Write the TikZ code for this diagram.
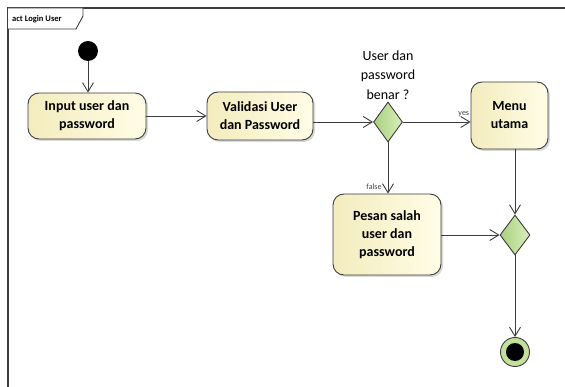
\documentclass[tikz,border=0pt]{standalone}
\usepackage{fontspec}
\setmainfont{Carlito}
\usetikzlibrary{arrows.meta,shapes.geometric,shadows}
\definecolor{lineC}{HTML}{3C3C3C}
\definecolor{creamA}{HTML}{FFFDE6}
\definecolor{creamB}{HTML}{F3ECBE}
\definecolor{greenA}{HTML}{A9D17F}
\definecolor{greenB}{HTML}{D8EDBC}
\definecolor{ringC}{HTML}{C3E09A}
\tikzset{
  actbox/.style={draw=lineC, line width=0.9pt, rounded corners=11pt, left color=creamB, right color=creamA,
    font=\bfseries\fontsize{14}{18}\selectfont, align=center, inner sep=0pt,
    drop shadow={shadow xshift=2pt, shadow yshift=-2pt, fill=black!25, opacity=0.6}},
  decis/.style={diamond, draw=lineC, line width=0.9pt, left color=greenA, right color=greenB, inner sep=0pt, aspect=0.73},
  flow/.style={draw=lineC, line width=0.9pt, -{Straight Barb[length=9pt,width=11pt,line width=0.9pt]}},
  plain/.style={draw=lineC, line width=0.9pt},
  small/.style={font=\fontsize{8}{9}\selectfont, text=black!75, inner sep=0pt},
}
\begin{document}
\begin{tikzpicture}[x=1pt,y=-1pt]
\useasboundingbox (0,0) rectangle (565,387);
% frame
\draw[lineC, line width=1.4pt] (565,8) -- (8,8) -- (8,387);
\draw[lineC, line width=0.9pt, fill=white] (8,8) -- (83,8) -- (83,16) -- (76,29) -- (8,29);
\node[anchor=west, font=\bfseries\fontsize{8.5}{9}\selectfont, inner sep=0pt] (title) at (12,19) {act Login User};
% nodes
\node[circle, fill=black, minimum size=20pt, inner sep=0pt] (start) at (88,51) {};
\node[actbox, minimum width=118pt, minimum height=46pt] (inp) at (87,116) {Input user dan\\password};
\node[actbox, minimum width=106pt, minimum height=48pt] (val) at (260,116) {Validasi User\\dan Password};
\node[decis, minimum width=29pt, minimum height=40pt] (d1) at (388,122) {};
\node[align=center, font=\fontsize{14}{19.5}\selectfont, inner sep=0pt] (q) at (388,75) {User dan\\password\\benar ?};
\node[actbox, minimum width=77pt, minimum height=67pt] (menu) at (509.5,115.5) {Menu\\utama};
\node[actbox, minimum width=108pt, minimum height=81pt] (pesan) at (387,234.5) {Pesan salah\\user dan\\password};
\node[decis, minimum width=30pt, minimum height=40pt] (d2) at (515,235) {};
\node[circle, draw=lineC, line width=0.9pt, fill=ringC, minimum size=29pt, inner sep=0pt] (final) at (515,352) {};
\node[circle, fill=black, minimum size=18pt, inner sep=0pt] (finalin) at (final) {};
% connectors
\draw[flow] (start.south) -- (start.south |- inp.north);
\draw[flow] (inp.east) -- (val.west);
\draw[flow] (val.east |- d1) -- (d1.west);
\draw[flow] (d1.east) -- node[small, pos=1, anchor=south east, xshift=-1pt, yshift=5pt] {yes} (d1.east -| menu.west);
\draw[flow] (d1.south) -- node[small, pos=1, anchor=south east, xshift=-6pt, yshift=4pt] {false} (d1.south |- pesan.north);
\draw[flow] (d2.north |- menu.south) -- (d2.north);
\draw[flow] (pesan.east |- d2) -- (d2.west);
\draw[flow] (d2.south) -- (final.north);
\end{tikzpicture}
\end{document}
